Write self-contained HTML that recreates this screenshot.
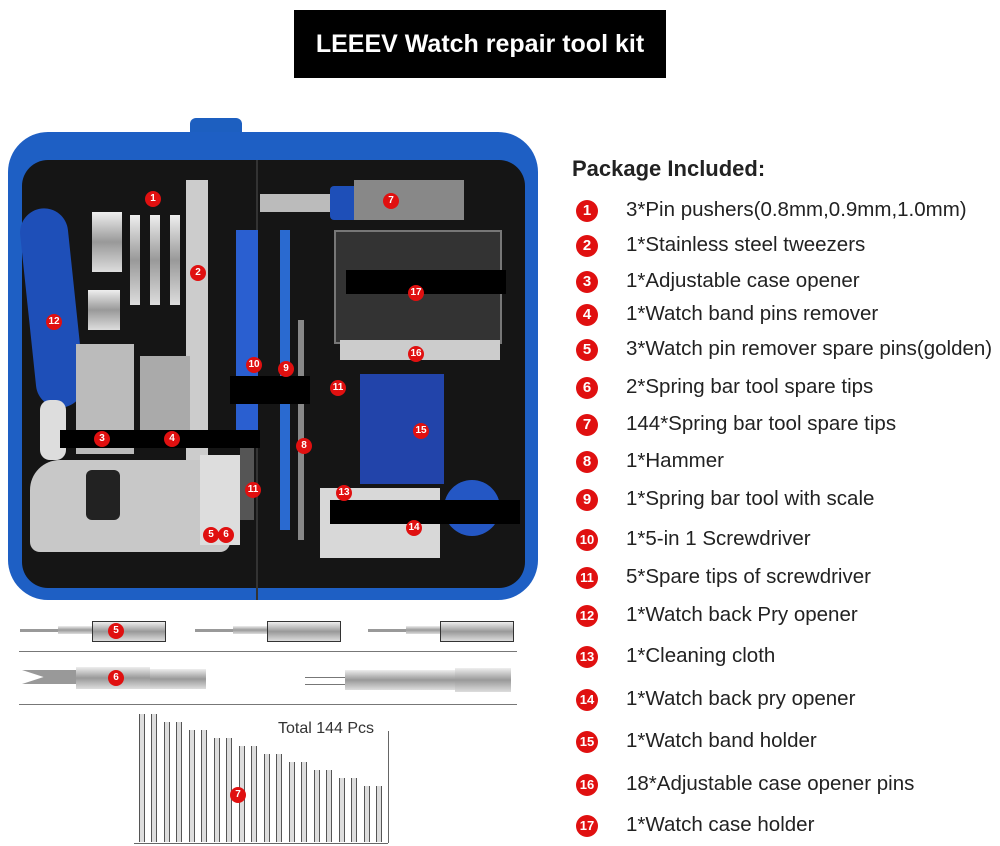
<!DOCTYPE html>
<html><head><style>
body{margin:0;width:1000px;height:846px;background:#fff;position:relative;overflow:hidden;font-family:"Liberation Sans",sans-serif}
.a{position:absolute}
.t{position:absolute;left:626px;font-size:20.5px;color:#222;white-space:nowrap;line-height:24px}
.n{position:absolute;left:576px;width:22px;height:22px;border-radius:50%;background:#e01010;color:#fff;font-weight:bold;font-size:15px;text-align:center;line-height:22px}
.b{position:absolute;width:16px;height:16px;border-radius:50%;background:#e01010;color:#fff;font-weight:bold;font-size:10px;text-align:center;line-height:16px;z-index:5}
.m{position:absolute;background:linear-gradient(#eee,#999,#ddd);}
.p{position:absolute;width:4px;bottom:4px;border-left:1px solid #555;border-right:1px solid #555;background:#ddd}
</style></head><body>
<div class="a" style="left:294px;top:10px;width:372px;height:68px;background:#000;color:#fff;font-size:25px;font-weight:bold;text-align:center;line-height:68px">LEEEV Watch repair tool kit</div>

<div class="a" style="left:190px;top:118px;width:52px;height:60px;background:#1d5fc0;border-radius:6px"></div>
<div class="a" style="left:8px;top:132px;width:530px;height:468px;background:#1e5fc4;border-radius:40px"></div>
<div class="a" style="left:22px;top:160px;width:503px;height:428px;background:#151515;border-radius:26px"></div>
<div class="a" style="left:256px;top:160px;width:2px;height:440px;background:#333"></div>
<div class="a" style="left:28px;top:208px;width:48px;height:200px;background:#1e4fb8;border-radius:24px;transform:rotate(-6deg)"></div>
<div class="a" style="left:40px;top:400px;width:26px;height:60px;background:#ddd;border-radius:10px"></div>
<div class="a" style="left:186px;top:180px;width:22px;height:280px;background:#ccc"></div>
<div class="m" style="left:92px;top:212px;width:30px;height:60px"></div>
<div class="m" style="left:88px;top:290px;width:32px;height:40px"></div>
<div class="m" style="left:130px;top:215px;width:10px;height:90px"></div>
<div class="m" style="left:150px;top:215px;width:10px;height:90px"></div>
<div class="m" style="left:170px;top:215px;width:10px;height:90px"></div>
<div class="a" style="left:76px;top:344px;width:58px;height:110px;background:#bbb"></div>
<div class="a" style="left:140px;top:356px;width:50px;height:90px;background:#aaa"></div>
<div class="a" style="left:30px;top:460px;width:200px;height:92px;background:#c8c8c8;border-radius:30px 30px 10px 10px"></div>
<div class="a" style="left:86px;top:470px;width:34px;height:50px;background:#222;border-radius:6px"></div>
<div class="a" style="left:236px;top:230px;width:22px;height:210px;background:#2a5fd0"></div>
<div class="a" style="left:240px;top:430px;width:14px;height:90px;background:#555"></div>
<div class="a" style="left:280px;top:230px;width:10px;height:300px;background:#2a6ad0"></div>
<div class="a" style="left:298px;top:320px;width:6px;height:220px;background:#888"></div>
<div class="a" style="left:260px;top:194px;width:100px;height:18px;background:#bbb"></div>
<div class="a" style="left:330px;top:186px;width:40px;height:34px;background:#1e4fb8;border-radius:4px"></div>
<div class="a" style="left:354px;top:180px;width:110px;height:40px;background:#888"></div>
<div class="a" style="left:334px;top:230px;width:164px;height:110px;background:#333;border:2px solid #777"></div>
<div class="a" style="left:340px;top:340px;width:160px;height:20px;background:#ccc"></div>
<div class="a" style="left:360px;top:374px;width:84px;height:110px;background:#2244aa"></div>
<div class="a" style="left:320px;top:488px;width:120px;height:70px;background:#d8d8d8"></div>
<div class="a" style="left:444px;top:480px;width:56px;height:56px;background:#2457c4;border-radius:50%"></div>
<div class="a" style="left:200px;top:455px;width:40px;height:90px;background:#ddd"></div>
<div class="a" style="left:60px;top:430px;width:200px;height:18px;background:#000"></div>
<div class="a" style="left:230px;top:376px;width:80px;height:28px;background:#000;z-index:2"></div>
<div class="a" style="left:346px;top:270px;width:160px;height:24px;background:#000"></div>
<div class="a" style="left:330px;top:500px;width:190px;height:24px;background:#000;z-index:3"></div>
<div class="b" style="left:145px;top:191px">1</div><div class="b" style="left:190px;top:265px">2</div>
<div class="b" style="left:94px;top:431px">3</div><div class="b" style="left:164px;top:431px">4</div>
<div class="b" style="left:203px;top:527px">5</div><div class="b" style="left:218px;top:527px">6</div>
<div class="b" style="left:383px;top:193px">7</div><div class="b" style="left:296px;top:438px">8</div>
<div class="b" style="left:278px;top:361px">9</div><div class="b" style="left:246px;top:357px">10</div>
<div class="b" style="left:245px;top:482px">11</div><div class="b" style="left:330px;top:380px">11</div>
<div class="b" style="left:46px;top:314px">12</div><div class="b" style="left:336px;top:485px">13</div>
<div class="b" style="left:406px;top:520px">14</div><div class="b" style="left:413px;top:423px">15</div>
<div class="b" style="left:408px;top:346px">16</div><div class="b" style="left:408px;top:285px">17</div>

<div class="a" style="left:20px;top:629px;width:38px;height:3px;background:#999"></div>
<div class="m" style="left:58px;top:626px;width:34px;height:8px"></div>
<div class="m" style="left:92px;top:621px;width:72px;height:19px;border:1px solid #333"></div>
<div class="b" style="left:108px;top:623px">5</div>
<div class="a" style="left:195px;top:629px;width:38px;height:3px;background:#999"></div>
<div class="m" style="left:233px;top:626px;width:34px;height:8px"></div>
<div class="m" style="left:267px;top:621px;width:72px;height:19px;border:1px solid #333"></div>
<div class="a" style="left:368px;top:629px;width:38px;height:3px;background:#999"></div>
<div class="m" style="left:406px;top:626px;width:34px;height:8px"></div>
<div class="m" style="left:440px;top:621px;width:72px;height:19px;border:1px solid #333"></div>
<div class="a" style="left:19px;top:651px;width:498px;height:1px;background:#777"></div>
<div class="a" style="left:22px;top:670px;width:54px;height:14px;background:#999;clip-path:polygon(0 0,40% 50%,0 100%,100% 100%,100% 0)"></div>
<div class="m" style="left:76px;top:667px;width:74px;height:22px"></div>
<div class="m" style="left:150px;top:669px;width:56px;height:20px"></div>
<div class="b" style="left:108px;top:670px">6</div>
<div class="a" style="left:305px;top:677px;width:40px;height:6px;border-top:1px solid #777;border-bottom:1px solid #777"></div>
<div class="m" style="left:345px;top:670px;width:110px;height:20px"></div>
<div class="m" style="left:455px;top:668px;width:56px;height:24px"></div>
<div class="a" style="left:19px;top:704px;width:498px;height:1px;background:#777"></div>
<div class="a" style="left:278px;top:720px;font-size:16px;color:#333">Total 144 Pcs</div>
<div class="a" style="left:388px;top:731px;width:1px;height:112px;background:#666"></div>
<div class="a" style="left:134px;top:843px;width:254px;height:1px;background:#666"></div>
<div class="p" style="left:139px;top:714px"></div><div class="p" style="left:151px;top:714px"></div>
<div class="p" style="left:164px;top:722px"></div><div class="p" style="left:176px;top:722px"></div>
<div class="p" style="left:189px;top:730px"></div><div class="p" style="left:201px;top:730px"></div>
<div class="p" style="left:214px;top:738px"></div><div class="p" style="left:226px;top:738px"></div>
<div class="p" style="left:239px;top:746px"></div><div class="p" style="left:251px;top:746px"></div>
<div class="p" style="left:264px;top:754px"></div><div class="p" style="left:276px;top:754px"></div>
<div class="p" style="left:289px;top:762px"></div><div class="p" style="left:301px;top:762px"></div>
<div class="p" style="left:314px;top:770px"></div><div class="p" style="left:326px;top:770px"></div>
<div class="p" style="left:339px;top:778px"></div><div class="p" style="left:351px;top:778px"></div>
<div class="p" style="left:364px;top:786px"></div><div class="p" style="left:376px;top:786px"></div>
<div class="b" style="left:230px;top:787px">7</div>

<div class="a" style="left:572px;top:156px;font-size:22px;font-weight:bold;color:#222">Package Included:</div>
<div class="n" style="top:200px">1</div><div class="t" style="top:198px">3*Pin pushers(0.8mm,0.9mm,1.0mm)</div>
<div class="n" style="top:235px">2</div><div class="t" style="top:233px">1*Stainless steel tweezers</div>
<div class="n" style="top:271px">3</div><div class="t" style="top:269px">1*Adjustable case opener</div>
<div class="n" style="top:304px">4</div><div class="t" style="top:302px">1*Watch band pins remover</div>
<div class="n" style="top:339px">5</div><div class="t" style="top:337px">3*Watch pin remover spare pins(golden)</div>
<div class="n" style="top:377px">6</div><div class="t" style="top:375px">2*Spring bar tool spare tips</div>
<div class="n" style="top:414px">7</div><div class="t" style="top:412px">144*Spring bar tool spare tips</div>
<div class="n" style="top:451px">8</div><div class="t" style="top:449px">1*Hammer</div>
<div class="n" style="top:489px">9</div><div class="t" style="top:487px">1*Spring bar tool with scale</div>
<div class="n" style="top:529px;font-size:13px">10</div><div class="t" style="top:527px">1*5-in 1 Screwdriver</div>
<div class="n" style="top:567px;font-size:13px">11</div><div class="t" style="top:565px">5*Spare tips of screwdriver</div>
<div class="n" style="top:605px;font-size:13px">12</div><div class="t" style="top:603px">1*Watch back Pry opener</div>
<div class="n" style="top:646px;font-size:13px">13</div><div class="t" style="top:644px">1*Cleaning cloth</div>
<div class="n" style="top:689px;font-size:13px">14</div><div class="t" style="top:687px">1*Watch back pry opener</div>
<div class="n" style="top:731px;font-size:13px">15</div><div class="t" style="top:729px">1*Watch band holder</div>
<div class="n" style="top:774px;font-size:13px">16</div><div class="t" style="top:772px">18*Adjustable case opener pins</div>
<div class="n" style="top:815px;font-size:13px">17</div><div class="t" style="top:813px">1*Watch case holder</div>
</body></html>
